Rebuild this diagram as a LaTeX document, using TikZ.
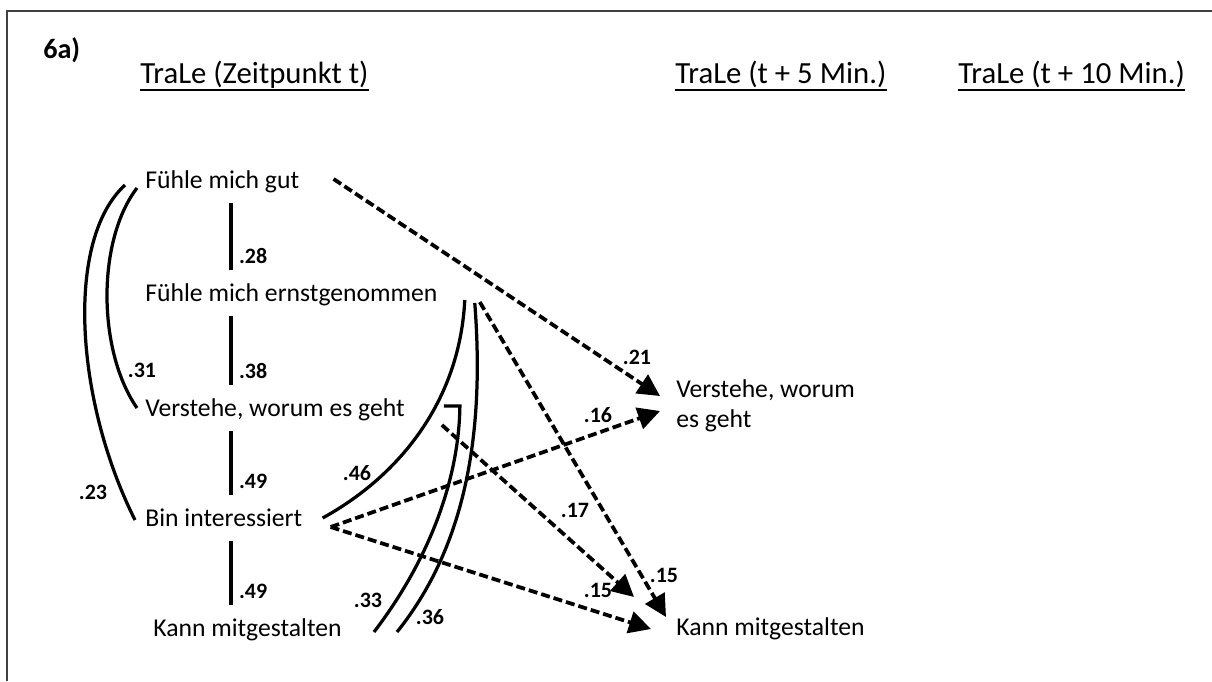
\documentclass[tikz,border=0pt]{standalone}
\usepackage{fontspec}
\setmainfont{Carlito}
\usetikzlibrary{arrows.meta}

\tikzset{
  item/.style={anchor=base west, inner sep=0pt, text height=0.62cm, text depth=0.3cm,
    font=\fontsize{14.6}{17}\selectfont},
  rnode/.style={anchor=base west, inner sep=0pt, align=left, font=\fontsize{14.6}{17}\selectfont},
  head/.style={anchor=base west, inner sep=0pt, font=\fontsize{17.5}{21}\selectfont},
  num/.style={inner sep=0pt, font=\bfseries\fontsize{12.5}{15}\selectfont},
  uline/.style={line width=0.05cm},
  frame/.style={line width=0.04cm, draw=black!75},
  bar/.style={line width=0.08cm},
  corr/.style={line width=0.065cm},
  dasharrow/.style={line width=0.075cm, dash pattern=on 0.18cm off 0.08cm,
    -{Triangle[length=0.44cm, width=0.44cm]}}
}

\begin{document}
\begin{tikzpicture}[x=0.02cm, y={(0,-0.02cm)}]
        \useasboundingbox (0,0) rectangle (1212,681);
        \draw[frame] (7,681) -- (7,11) -- (1212,11);

        % headings
        \node[head, font=\bfseries\fontsize{16}{19}\selectfont] (lab) at (43,58) {6a)};
        \foreach \n/\x/\t in {tt/140/TraLe (Zeitpunkt t), t5/675/TraLe (t + 5 Min.), t10/958/TraLe (t + 10 Min.)} {
                \node[head] (\n) at (\x,83) {\t};
                \draw[uline] ([shift={(0,7)}]\n.base west) -- ([shift={(0,7)}]\n.base east);
            }

        % time t
        \foreach \n/\x/\y/\t in {gut/145/188/Fühle mich gut, ernst/145/301/Fühle mich ernstgenommen,
                verst/145/416/{Verstehe, worum es geht}, inter/145/526/Bin interessiert, kann/153/636/Kann mitgestalten} {
                \node[item] (\n) at (\x,\y) {\t};
            }

        % t + 5 min
        \node[rnode] (verstR) at (676,427) {Verstehe, worum\\es geht};
        \node[rnode] (kannR) at (676,635) {Kann mitgestalten};

        % correlations in a column
        \coordinate (col) at (231,0);
        \foreach \n/\r [remember=\n as \lastn (initially gut)] in {ernst/.28, verst/.38, inter/.49, kann/.49} {
                \draw[bar] (\lastn.south -| col) -- (\n.north -| col)
                    node[num, anchor=base west, xshift=0.12cm, yshift=0.12cm] (r-\n) {\r};
            }

        % curved correlations
        \draw[corr] ([shift={(-20,5)}]gut.west) .. controls +(-60,55) and +(-60,-120) .. ([shift={(-10,2)}]inter.west);
        \draw[corr] ([shift={(-8,8)}]gut.west) .. controls +(-40,52) and +(-40,-58) .. ([shift={(-8,0)}]verst.west);
        \draw[corr] ([shift={(27,7)}]ernst.east) .. controls +(-5,100) and +(78,-43) .. ([shift={(20,0)}]inter.east);
        \draw[corr] ([shift={(37,10)}]ernst.east) .. controls +(9,117) and +(74,-92) .. ([shift={(55,4)}]kann.east);
        \draw[corr] ([shift={(39,-2)}]verst.east) -- ++(16,0) .. controls +(-1,74) and +(55,-72) .. ([shift={(32,4)}]kann.east);

        % cross-lagged paths
        \draw[dasharrow] ([shift={(34,-1)}]gut.east) -- ([shift={(-16,-31)}]verstR.base west);
        \draw[dasharrow] ([shift={(28,9)}]inter.east) -- ([shift={(-16,-16)}]verstR.base west);
        \draw[dasharrow] ([shift={(42,9)}]ernst.east) -- ([shift={(-10,-18)}]kannR.base west);
        \draw[dasharrow] ([shift={(37,17)}]verst.east) -- ([shift={(-42,-38)}]kannR.base west);
        \draw[dasharrow] ([shift={(28,9)}]inter.east) -- ([shift={(-25,-6)}]kannR.base west);

        % coefficients
        \foreach \n/\x/\y/\t in {c31/142/370/.31, c23/93/492/.23, c46/357/473/.46, c33/368/600/.33, c36/430/617/.36,
                c21/637/357/.21, c16/598/415/.16, c17/575/510/.17, c15a/598/590/.15, c15b/664/575/.15} {
                \node[num] (\n) at (\x,\y) {\t};
            }
\end{tikzpicture}
\end{document}
